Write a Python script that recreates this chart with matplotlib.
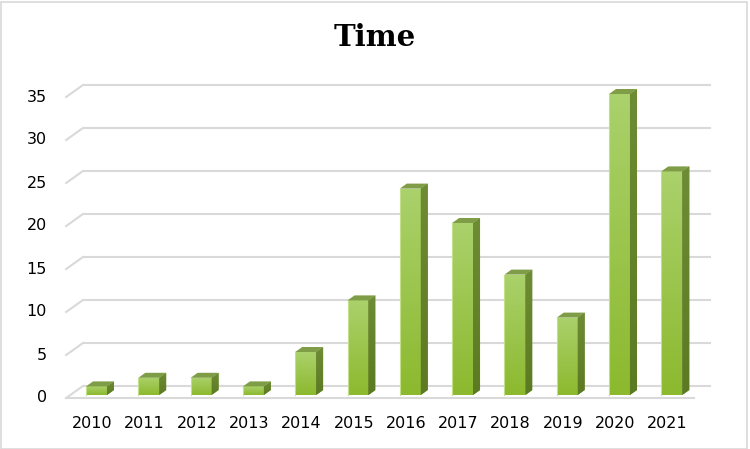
import matplotlib

matplotlib.use("Agg")

import matplotlib.pyplot as plt
import numpy as np
from matplotlib.colors import LinearSegmentedColormap
from matplotlib.patches import Polygon, Rectangle

# data
years = ["2010", "2011", "2012", "2013", "2014", "2015",
         "2016", "2017", "2018", "2019", "2020", "2021"]
counts = [1, 2, 2, 1, 5, 11, 24, 20, 14, 9, 35, 26]
y_ticks = [0, 5, 10, 15, 20, 25, 30, 35]

# pixel geometry of the fake 3D look (data units = category / value)
PX_X = 52.3       # pixels per category
PX_Y = 8.6        # pixels per value unit
X0_PX = 96.5      # pixel x of first bar centre
Y0_PX = 395.0     # pixel y of bar baseline
BAR_W = 0.40
BAR_DX, BAR_DY = 7 / PX_X, 5 / PX_Y          # bar depth
BACK_DX, BACK_DY = 12.6 / PX_X, 9 / PX_Y     # back wall offset
FRONT_DX, FRONT_DY = -4.2 / PX_X, -3 / PX_Y  # front edge offset

GRID = "#d9d9d9"
SIDE = "#6a8a30"
TOP = "#7e9d46"
front_cmap = LinearSegmentedColormap.from_list("front", ["#8db92f", "#aad16b"])
side_cmap = LinearSegmentedColormap.from_list("side", ["#5c7a22", "#6e8c34"])

W, H = 750, 449
fig = plt.figure(figsize=(W / 100, H / 100), dpi=100)
ax = fig.add_axes([0, 0, 1, 1])
xlim = (-X0_PX / PX_X, (W - X0_PX) / PX_X)
ylim = ((Y0_PX - H) / PX_Y, Y0_PX / PX_Y)
ax.axis("off")

n = len(years)
x = np.arange(n)
left, right = -0.5, n - 0.5

# back wall gridlines with the left diagonal
for v in y_ticks:
    ax.plot([left + BACK_DX, right + BACK_DX], [v + BACK_DY, v + BACK_DY],
            color=GRID, lw=1.5, zorder=1, solid_capstyle="butt")
    ax.plot([left + FRONT_DX, left + BACK_DX], [v + FRONT_DY, v + BACK_DY],
            color=GRID, lw=1.5, zorder=1)
# front floor edge
ax.plot([left + FRONT_DX, right + FRONT_DX], [FRONT_DY, FRONT_DY],
        color=GRID, lw=1.5, zorder=1)

bars = ax.bar(x, counts, width=BAR_W, color="#9cc54a", zorder=3, lw=0)
grad = np.linspace(0, 1, 64).reshape(-1, 1)
for xi, v, patch in zip(x, counts, bars):
    xl, xr = xi - BAR_W / 2, xi + BAR_W / 2
    im = ax.imshow(grad, cmap=front_cmap, origin="lower", aspect="auto",
                   extent=[xl, xr, 0, v], zorder=4)
    im.set_clip_path(patch)
    # light highlight on the left edge
    ax.plot([xl, xl], [0, v], color="#c2e08a", lw=0.8, zorder=5)
    side = Polygon([(xr, 0), (xr + BAR_DX, BAR_DY), (xr + BAR_DX, v + BAR_DY), (xr, v)],
                   closed=True, fc=SIDE, lw=0, zorder=4)
    ax.add_patch(side)
    sim = ax.imshow(grad, cmap=side_cmap, origin="lower", aspect="auto",
                    extent=[xr, xr + BAR_DX, 0, v + BAR_DY], zorder=4)
    sim.set_clip_path(side)
    ax.add_patch(Polygon([(xl, v), (xr, v), (xr + BAR_DX, v + BAR_DY), (xl + BAR_DX, v + BAR_DY)],
                         closed=True, fc=TOP, lw=0, zorder=5))

# tick labels on the front plane
for v in y_ticks:
    ax.text((47 - X0_PX) / PX_X, v + FRONT_DY, str(v), ha="right", va="center",
            fontsize=11.5, family="DejaVu Sans", color="black")
for xi, lab in zip(x, years):
    ax.text(xi + FRONT_DX, (Y0_PX - 423) / PX_Y, lab, ha="center", va="center",
            fontsize=11.5, family="DejaVu Sans", color="black")

ax.set_xlim(*xlim)
ax.set_ylim(*ylim)

fig.text(375 / W, 1 - 38 / H, "Time", ha="center", va="center",
         fontsize=21, fontweight="heavy", family="DejaVu Serif")

# chart border
fig.patches.append(Rectangle((1 / W, 0), 1 - 4 / W, 1 - 2 / H, transform=fig.transFigure,
                             fill=False, ec="#d9d9d9", lw=1.2))

fig.savefig("out.png", dpi=100)
